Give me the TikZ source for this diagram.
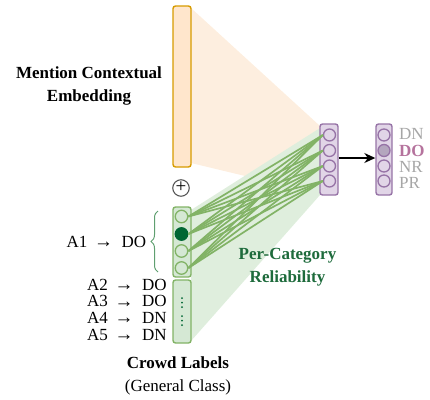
\documentclass[tikz,border=0pt]{standalone}
\usepackage{fontspec}
\setmainfont{Liberation Serif}
\usetikzlibrary{arrows.meta,decorations.pathreplacing}
\definecolor{orFill}{HTML}{FFE6CC}
\definecolor{orDraw}{HTML}{D79B00}
\definecolor{orShade}{HTML}{FDEEDF}
\definecolor{grFill}{HTML}{D5E8D4}
\definecolor{grDraw}{HTML}{82B366}
\definecolor{grShade}{HTML}{DFEEDD}
\definecolor{grDark}{HTML}{006633}
\definecolor{grText}{HTML}{1E6B3C}
\definecolor{grBrace}{HTML}{5F9F70}
\definecolor{puFill}{HTML}{E1D5E7}
\definecolor{puDraw}{HTML}{9673A6}
\definecolor{puSel}{HTML}{B4A6BE}
\definecolor{doText}{HTML}{B5739D}
\definecolor{lblGray}{HTML}{A6A6A6}
\begin{document}
\begin{tikzpicture}[x=1pt,y=-1pt,
  txt/.style={inner sep=0pt,font=\fontsize{17}{20}\selectfont},
  btxt/.style={txt,font=\fontsize{17}{20}\selectfont\bfseries},
  arr/.style={inner sep=0pt,font=\fontsize{19}{19}\selectfont,text height=7pt,text depth=0pt},
  colbox/.style={draw,rounded corners=2.5pt,line width=1.4pt,minimum width=18pt,inner sep=0pt},
  gcirc/.style={circle,draw=grDraw,fill=grFill,line width=1.3pt,minimum size=12.5pt,inner sep=0pt},
  pcirc/.style={circle,draw=puDraw,fill=puFill,line width=1.3pt,minimum size=12pt,inner sep=0pt},
  link/.style={grDraw,line width=1.7pt},
  lbl/.style={txt,anchor=base west,text=lblGray}
]
\useasboundingbox (0,0) rectangle (430,399);
% shaded regions
\fill[orShade] (191,8) -- (320,126) -- (320,194) -- (191,163) -- cycle;
\fill[grShade] (191,210) -- (320,128) -- (320,195) -- (191,341) -- cycle;
% orange bar
\node[colbox,draw=orDraw,fill=orFill,minimum height=161pt] (bar) at (182,86.5) {};
% plus
\node[circle,draw=black!65,line width=1.1pt,minimum size=16.5pt,inner sep=0pt,font=\fontsize{19}{19}\selectfont] (plus) at (181,188) {\raisebox{0.8pt}{+}};
% green boxes
\node[colbox,draw=grDraw,fill=grFill,minimum height=70pt] (gbox1) at (182,242) {};
\node[colbox,draw=grDraw,fill=grFill,minimum height=63pt] (gbox2) at (182,311.5) {};
\node[gcirc] (g1) at (181.5,216.5) {};
\node[gcirc,fill=grDark,draw=grDark] (g2) at (181.5,234) {};
\node[gcirc] (g3) at (181.5,251) {};
\node[gcirc] (g4) at (181.5,268) {};
\foreach \yy in {298,302.5,307,316,320.5,325} \fill[grDark] (182,\yy) circle (1pt);
% purple columns
\node[colbox,draw=puDraw,fill=puFill,minimum height=71pt] (pcol1) at (329,159.5) {};
\node[pcirc] (p1) at (329.5,135) {};
\node[pcirc] (p2) at (329.5,150.5) {};
\node[pcirc] (p3) at (329.5,166) {};
\node[pcirc] (p4) at (329.5,181) {};
\node[colbox,draw=puDraw,fill=puFill,minimum height=71pt,minimum width=16pt] (pcol2) at (384,159.5) {};
\node[pcirc] (q1) at (384,135) {};
\node[pcirc,fill=puSel] (q2) at (384,150.5) {};
\node[pcirc] (q3) at (384,166) {};
\node[pcirc] (q4) at (384,181) {};
% links
\foreach \i in {1,...,4}{\foreach \j in {1,...,4}{\draw[link] (g\i.east) -- (p\j.west);}}
% arrow
\draw[line width=1.4pt,-{Stealth[length=11pt,width=10pt]}] (pcol1.east |- 0,158) -- (pcol2.west |- 0,158);
% output labels
\node[lbl] (lDN) at (399,139) {DN};
\node[lbl,text=doText,font=\fontsize{17}{20}\selectfont\bfseries] (lDO) at (399,156) {DO};
\node[lbl] (lNR) at (399,172) {NR};
\node[lbl] (lPR) at (399,188.5) {PR};
% left texts
\node[btxt,anchor=base] (mce1) at (89,78) {Mention Contextual};
\node[btxt,anchor=base] (mce2) at (89,101) {Embedding};
\node[txt,anchor=base east] (a1) at (87.5,247) {A1};
\node[arr,anchor=base] (a1r) at (103.5,247.5) {→};
\node[txt,anchor=base west] (a1d) at (121.5,247) {DO};
\draw[grBrace,line width=1pt,decorate,decoration={brace,amplitude=7pt}] (158,272) -- (158,211);
\node[txt,anchor=base east] (a2) at (108,290) {A2};
\node[arr,anchor=base] (a2r) at (124,290.5) {→};
\node[txt,anchor=base west] (a2d) at (142,290) {DO};
\node[txt,anchor=base east] (a3) at (108,306.5) {A3};
\node[arr,anchor=base] (a3r) at (124,307) {→};
\node[txt,anchor=base west] (a3d) at (142,306.5) {DO};
\node[txt,anchor=base east] (a4) at (108,323) {A4};
\node[arr,anchor=base] (a4r) at (124,323.5) {→};
\node[txt,anchor=base west] (a4d) at (142,323) {DN};
\node[txt,anchor=base east] (a5) at (108,340) {A5};
\node[arr,anchor=base] (a5r) at (124,340.5) {→};
\node[txt,anchor=base west] (a5d) at (142,340) {DN};
\node[btxt,anchor=base] (cl1) at (178,368) {Crowd Labels};
\node[txt,anchor=base] (cl2) at (178,391) {(General Class)};
\node[btxt,anchor=base,text=grText] (pc1) at (287.5,259) {Per-Category};
\node[btxt,anchor=base,text=grText] (pc2) at (287.5,282) {Reliability};
\end{tikzpicture}
\end{document}
